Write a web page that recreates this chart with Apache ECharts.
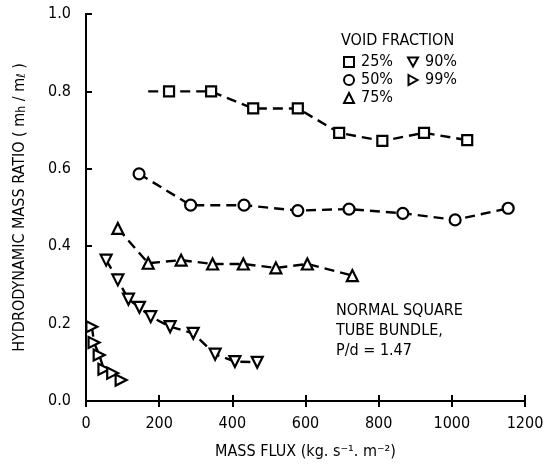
<!DOCTYPE html>
<html><head><meta charset="utf-8">
<script src="https://cdn.jsdelivr.net/npm/echarts@6/dist/echarts.min.js"></script>
<style>html,body{margin:0;padding:0;background:#fff}#c{width:550px;height:468px}</style>
</head><body><div id="c"></div>
<script>
var xTicks = [0, 200, 400, 600, 800, 1000, 1200];
var yTicks = [0.0, 0.2, 0.4, 0.6, 0.8, 1.0];
var seriesNames = ['25%', '50%', '75%', '90%', '99%'];
// void fraction 25% (leading dash segment starts at 170 without a marker)
var void25Lead = [170, 0.80];
var void25 = [[227,0.80],[342,0.80],[457,0.756],[579,0.756],[692,0.693],[810,0.672],[924,0.693],[1042,0.674]];
var void50 = [[145,0.587],[286,0.506],[432,0.506],[579,0.492],[719,0.496],[866,0.485],[1009,0.468],[1154,0.498]];
var void75 = [[87,0.446],[170,0.356],[260,0.364],[346,0.354],[430,0.354],[519,0.344],[605,0.354],[728,0.324]];
var void90 = [[55,0.364],[87,0.313],[116,0.263],[146,0.242],[177,0.218],[230,0.192],[293,0.175],[353,0.121],[407,0.102],[468,0.100]];
var void99 = [[16,0.192],[22,0.151],[36,0.119],[49,0.082],[73,0.072],[96,0.054]];

var FONT = 'DejaVu Sans Condensed';
var FS = 16;
var chart = echarts.init(document.getElementById('c'), null, {renderer:'canvas'});
var mk = {color:'#fff', borderColor:'#000', borderWidth:2.2};
var ls = {color:'#000', width:2.4, type:[10,6]};
function ser(name, data, symbol, rot, size){
  return {name:name, type:'line', data:data, symbol:symbol, symbolRotate:rot, symbolSize:size,
    itemStyle:mk, lineStyle:ls, animation:false, z:3};
}
var d25 = [{value:void25Lead, symbol:'none'}].concat(void25);
var triDown = 'path://M0,0 L10,0 L5,9 Z';
var triRight = 'path://M0,0 L9,5 L0,10 Z';
var legendText = {fontFamily:FONT, fontSize:FS, color:'#000', padding:[0,0,0,2]};
chart.setOption({
  animation:false,
  grid:{left:86, right:25, top:14, bottom:67},
  legend:[
    {left:338, top:49, orient:'vertical', itemGap:2, itemWidth:10, itemHeight:10, textStyle:legendText,
     data:[{name:'25%', icon:'rect'},{name:'50%', icon:'circle'},{name:'75%', icon:'triangle'}],
     selectedMode:false},
    {left:402, top:49, orient:'vertical', itemGap:2, itemWidth:10, itemHeight:10, textStyle:legendText,
     data:[{name:'90%', icon:triDown},{name:'99%', icon:triRight}], selectedMode:false}
  ],
  title:{text:'VOID FRACTION', left:336, top:28, textStyle:{fontFamily:FONT, fontSize:FS, fontWeight:'normal', color:'#000'}},
  graphic:[{type:'text', left:336, top:301, style:{text:'NORMAL SQUARE\nTUBE BUNDLE,\nP/d = 1.47', font:FS+'px "DejaVu Sans Condensed"', lineHeight:20, fill:'#000'}}],
  xAxis:[
    {type:'value', min:0, max:1200, interval:200, position:'bottom',
     name:'MASS FLUX (kg. s⁻¹. m⁻²)', nameLocation:'middle', nameGap:43,
     nameTextStyle:{fontFamily:FONT, fontSize:FS, color:'#000'},
     axisLine:{lineStyle:{color:'#000', width:2}},
     axisTick:{inside:true, length:6, lineStyle:{color:'#000', width:2}},
     axisLabel:{fontFamily:FONT, fontSize:FS, color:'#000', margin:15, formatter:function(v){return xTicks.indexOf(v)>=0?String(v):'';}},
     splitLine:{show:false}},
    {type:'value', min:0, max:1200, interval:200, position:'top',
     axisLine:{lineStyle:{color:'#000', width:2}},
     axisTick:{inside:true, length:6, lineStyle:{color:'#000', width:2}},
     axisLabel:{show:false}, splitLine:{show:false}}
  ],
  yAxis:[
    {type:'value', min:0, max:1, interval:0.2, position:'left',
     name:'HYDRODYNAMIC MASS RATIO ( m{s|h} / m{s|ℓ} )', nameLocation:'middle', nameGap:58, nameRotate:90,
     nameTextStyle:{fontFamily:FONT, fontSize:FS, color:'#000', rich:{s:{fontFamily:FONT, fontSize:12, color:'#000', verticalAlign:'bottom'}}},
     axisLine:{lineStyle:{color:'#000', width:2}},
     axisTick:{inside:true, length:6, lineStyle:{color:'#000', width:2}},
     axisLabel:{fontFamily:FONT, fontSize:FS, color:'#000', margin:15, formatter:function(v){return v.toFixed(1);}},
     splitLine:{show:false}},
    {type:'value', min:0, max:1, interval:0.2, position:'right',
     axisLine:{show:true, lineStyle:{color:'#000', width:2}},
     axisTick:{show:false}, axisLabel:{show:false}, splitLine:{show:false}}
  ],
  series:[
    ser(seriesNames[0], d25, 'rect', 0, 10),
    ser(seriesNames[1], void50, 'circle', 0, 11),
    ser(seriesNames[2], void75, 'triangle', 0, 11),
    ser(seriesNames[3], void90, 'triangle', 180, 11),
    ser(seriesNames[4], void99, 'triangle', -90, 11)
  ]
});
</script></body></html>
